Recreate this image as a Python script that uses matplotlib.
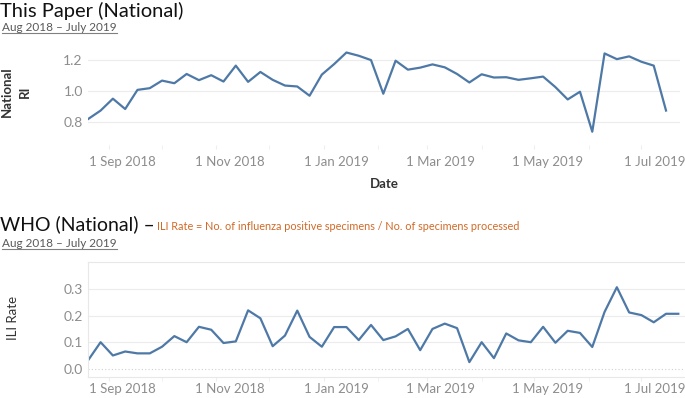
import numpy as np
import matplotlib
matplotlib.use('Agg')
import matplotlib.pyplot as plt
import matplotlib.dates as mdates
from matplotlib.transforms import ScaledTranslation
from datetime import date, timedelta

# weekly values
start = date(2018, 8, 20)
national_ri = [0.819, 0.873, 0.950, 0.883, 1.007, 1.018, 1.067, 1.050, 1.110, 1.070,
               1.102, 1.061, 1.164, 1.059, 1.123, 1.072, 1.035, 1.029, 0.969, 1.106,
               1.174, 1.249, 1.228, 1.200, 0.982, 1.196, 1.138, 1.151, 1.172, 1.153,
               1.110, 1.055, 1.108, 1.087, 1.089, 1.072, 1.082, 1.093, 1.025, 0.945,
               0.995, 0.736, 1.243, 1.206, 1.224, 1.189, 1.164, 0.873]
ili_rate = [0.034, 0.101, 0.051, 0.066, 0.059, 0.059, 0.084, 0.124, 0.101, 0.159,
            0.148, 0.098, 0.104, 0.221, 0.191, 0.086, 0.126, 0.220, 0.121, 0.084,
            0.158, 0.158, 0.109, 0.166, 0.109, 0.123, 0.151, 0.071, 0.151, 0.171,
            0.154, 0.026, 0.101, 0.041, 0.134, 0.108, 0.101, 0.159, 0.099, 0.144,
            0.136, 0.083, 0.215, 0.308, 0.213, 0.203, 0.176, 0.208, 0.208]
ri_ticks = [0.8, 1.0, 1.2]
ili_ticks = [0.0, 0.1, 0.2, 0.3]
label_months = [date(2018, 9, 1), date(2018, 11, 1), date(2019, 1, 1),
                date(2019, 3, 1), date(2019, 5, 1), date(2019, 7, 1)]
label_text = ['1 Sep 2018', '1 Nov 2018', '1 Jan 2019', '1 Mar 2019', '1 May 2019', '1 Jul 2019']

W, H = 685, 398
BLUE = '#4e79a7'
TICKC = '#8d8d8d'
GRID = '#ececec'
PX_PER_DAY = 1.756
LEFT = 88.3

fig = plt.figure(figsize=(W / 100, H / 100), dpi=100)
plt.rcParams['font.family'] = ['Lato', 'DejaVu Sans']


def rect(x0, y0, x1, y1):
    return [x0 / W, 1 - y1 / H, (x1 - x0) / W, (y1 - y0) / H]


def xlim_for(x1):
    d0 = mdates.date2num(start)
    return d0, d0 + (x1 - LEFT) / PX_PER_DAY


def style_axis(ax, x1, ticks, pad):
    ax.set_xlim(*xlim_for(x1))
    months = [date(2018, m, 1) for m in range(9, 13)] + [date(2019, m, 1) for m in range(1, 8)]
    ax.set_xticks([mdates.date2num(m) for m in months], minor=True)
    ax.set_xticks([mdates.date2num(m) for m in label_months])
    ax.set_xticklabels(label_text)
    ax.tick_params(axis='x', which='both', length=3, color='#eeeeee', labelcolor=TICKC,
                   labelsize=9.5, pad=pad)
    off = ScaledTranslation(13 / 100, 0, fig.dpi_scale_trans)
    for lab in ax.get_xticklabels():
        lab.set_transform(lab.get_transform() + off)
    ax.set_yticks(ticks)
    ax.set_yticklabels(['{:.1f}'.format(t) for t in ticks])
    ax.tick_params(axis='y', length=0, labelcolor=TICKC, labelsize=10, pad=4)


dates = [mdates.date2num(start + timedelta(weeks=i)) for i in range(len(national_ri))]
dates2 = [mdates.date2num(start + timedelta(weeks=i)) for i in range(len(ili_rate))]

# top: This Paper
ax1 = fig.add_axes(rect(LEFT, 40, 680, 145))
ax1.plot(dates, national_ri, color=BLUE, lw=1.6, solid_joinstyle='round')
ax1.set_ylim(0.65, 1.33)
style_axis(ax1, 680, ri_ticks, 5)
for t in ri_ticks:
    ax1.axhline(t, color=GRID, lw=0.8, zorder=0)
for s in ax1.spines.values():
    s.set_visible(False)
fig.text(384 / W, 1 - 184 / H, 'Date', ha='center', va='center', fontsize=9.5,
         color='#333333', fontweight='bold')
fig.text(7 / W, 1 - 92 / H, 'National', rotation=90, ha='center', va='center',
         fontsize=9.5, color='#333333', fontweight='bold')
fig.text(25 / W, 1 - 92 / H, 'RI', rotation=90, ha='center', va='center',
         fontsize=9.5, color='#333333', fontweight='bold')

# bottom: WHO
ax2 = fig.add_axes(rect(LEFT, 262, 690, 377))
ax2.plot(dates2, ili_rate, color=BLUE, lw=1.6, solid_joinstyle='round')
ax2.set_ylim(-0.03, 0.403)
style_axis(ax2, 690, ili_ticks, 1)
for t in ili_ticks[1:]:
    ax2.axhline(t, color=GRID, lw=0.8, zorder=0)
ax2.axhline(0, color='#d0d0d0', lw=0.8, ls=(0, (1, 2)), zorder=0)
for k, s in ax2.spines.items():
    s.set_color('#e8e8e8')
    s.set_linewidth(0.8)
ax2.spines['right'].set_visible(False)
fig.text(13 / W, 1 - 318 / H, 'ILI Rate', rotation=90, ha='center', va='center',
         fontsize=9.5, color='#333333')

# titles
fig.text(0, 1 - 17 / H, 'This Paper (National)', fontsize=14.5, color='#111111',
         va='baseline', ha='left')
sub1 = fig.text(2 / W, 1 - 31 / H, 'Aug 2018 \u2013 July 2019', fontsize=8.5,
                color='#595959', va='baseline', ha='left')
fig.text(0, 1 - 230 / H, 'WHO (National) \u2013', fontsize=14, color='#111111',
         va='baseline', ha='left')
fig.text(157 / W, 1 - 230 / H,
         'ILI Rate = No. of influenza positive specimens / No. of specimens processed',
         fontsize=7.8, color='#d06a28', va='baseline', ha='left')
sub2 = fig.text(2 / W, 1 - 247 / H, 'Aug 2018 \u2013 July 2019', fontsize=8.5,
                color='#595959', va='baseline', ha='left')

# underline subtitles
fig.canvas.draw()
r = fig.canvas.get_renderer()
for t, yb in [(sub1, 33), (sub2, 249)]:
    bb = t.get_window_extent(r)
    fig.add_artist(plt.Line2D([bb.x0 / W, bb.x1 / W], [1 - yb / H, 1 - yb / H],
                              color='#808080', lw=0.8, transform=fig.transFigure))

fig.savefig('out.png', dpi=100)
